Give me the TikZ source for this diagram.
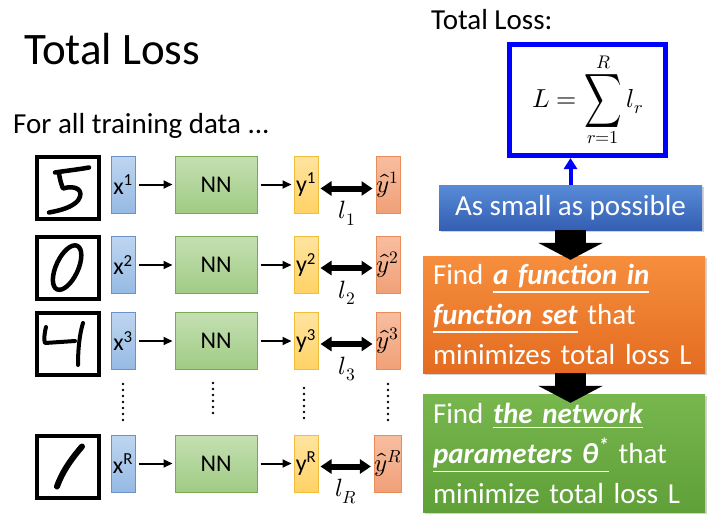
\documentclass[tikz,border=0pt]{standalone}
\usepackage{amsmath}
\usepackage{graphicx}
\usepackage{fontspec}
\usepackage{unicode-math}
\setmainfont{Carlito}
\setmathfont{Latin Modern Math}
\usetikzlibrary{arrows.meta,positioning,shadows}

\definecolor{xline}{RGB}{109,145,196}
\definecolor{xtop}{RGB}{190,213,240}
\definecolor{xbot}{RGB}{150,186,228}
\definecolor{nnline}{RGB}{120,170,85}
\definecolor{nntop}{RGB}{196,224,178}
\definecolor{nnbot}{RGB}{160,203,132}
\definecolor{yline}{RGB}{240,190,60}
\definecolor{ytop}{RGB}{255,228,160}
\definecolor{ybot}{RGB}{255,210,100}
\definecolor{yhline}{RGB}{232,140,90}
\definecolor{yhtop}{RGB}{248,190,160}
\definecolor{yhbot}{RGB}{240,160,120}
\definecolor{smalltop}{RGB}{88,140,215}
\definecolor{smallbot}{RGB}{52,94,178}
\definecolor{findtop}{RGB}{246,142,62}
\definecolor{findbot}{RGB}{228,108,32}
\definecolor{nettop}{RGB}{120,182,78}
\definecolor{netbot}{RGB}{96,160,56}

\tikzset{
  cell/.style={draw, line width=1pt, minimum width=24pt, minimum height=57pt, inner sep=0pt, font=\fontsize{24}{24}\selectfont},
  xcell/.style={cell, draw=xline, top color=xtop, bottom color=xbot},
  nncell/.style={cell, minimum width=82pt, draw=nnline, top color=nntop, bottom color=nnbot},
  ycell/.style={cell, draw=yline, top color=ytop, bottom color=ybot},
  yhcell/.style={cell, draw=yhline, top color=yhtop, bottom color=yhbot, font=\fontsize{25}{25}\selectfont},
  digit/.style={draw, line width=4pt, minimum size=62pt, inner sep=0pt},
  pen/.style={line width=4.5pt, line cap=round, line join=round},
  feed/.style={-{Triangle[length=9pt,width=8pt]}, line width=2pt, shorten <=3pt, shorten >=2pt},
  loss/.style={{Triangle[length=11pt,width=14pt]}-{Triangle[length=11pt,width=14pt]}, line width=6pt, shorten <=2pt, shorten >=3pt},
  lname/.style={below=9pt, inner sep=1pt, font=\fontsize{25}{25}\selectfont},
  vdots/.style={line width=2.6pt, line cap=round, dash pattern=on 0pt off 6pt},
  goal/.style={inner sep=0pt, text=white, font=\fontsize{29}{40}\selectfont, drop shadow={opacity=0.35, shadow xshift=1.5pt, shadow yshift=-1.5pt}},
  block/.style={-{Triangle[length=17pt,width=64pt]}, line width=31pt},
  label/.style={anchor=base west, inner sep=0pt}
}

\begin{document}
\begin{tikzpicture}[x=1pt,y=-1pt,on grid]
  \path[use as bounding box, fill=white] (0,0) rectangle (713,523);

  % left half: one network per training example
  \node[label, font=\fontsize{45}{45}\selectfont] (title) at (24,64) {Total Loss};
  \node[label, font=\fontsize{29}{29}\selectfont] (all) at (13,133) {For all training data ...};

  \node[xcell] (x_1) at (123,184.5) {x\textsuperscript{1}};
  \node[xcell] (x_2) [below=80.5pt of x_1] {x\textsuperscript{2}};
  \node[xcell] (x_3) [below=76pt of x_2] {x\textsuperscript{3}};
  \node[xcell] (x_R) [below=122.5pt of x_3] {x\textsuperscript{R}};

  \node[digit] (d_1) [left=55pt of x_1, yshift=-3pt] {};
  \node[digit] (d_2) [left=55pt of x_2, yshift=-3pt] {};
  \node[digit] (d_3) [left=55pt of x_3, yshift=-3pt] {};
  \node[digit] (d_R) [left=55pt of x_R, yshift=-3pt] {};

  \node[nncell] (nn_1) [right=93pt of x_1] {NN};
  \node[nncell] (nn_2) [right=93pt of x_2] {NN};
  \node[nncell] (nn_3) [right=93pt of x_3] {NN};
  \node[nncell] (nn_R) [right=93pt of x_R] {NN};

  \node[ycell] (y_1) [right=90pt of nn_1] {y\textsuperscript{1}};
  \node[ycell] (y_2) [right=90pt of nn_2] {y\textsuperscript{2}};
  \node[ycell] (y_3) [right=90pt of nn_3] {y\textsuperscript{3}};
  \node[ycell] (y_R) [right=90pt of nn_R] {y\textsuperscript{R}};

  \node[yhcell] (yh_1) [right=82pt of y_1] {$\hat{y}^{1}$};
  \node[yhcell] (yh_2) [right=82pt of y_2] {$\hat{y}^{2}$};
  \node[yhcell] (yh_3) [right=82pt of y_3] {$\hat{y}^{3}$};
  \node[yhcell] (yh_R) [right=82pt of y_R] {$\hat{y}^{R}$};

  \path[feed]
  (x_1) edge (nn_1) (nn_1) edge (y_1)
  (x_2) edge (nn_2) (nn_2) edge (y_2)
  (x_3) edge (nn_3) (nn_3) edge (y_3)
  (x_R) edge (nn_R) (nn_R) edge (y_R);

  \draw[loss] ([yshift=-4pt]y_1.east) -- ([yshift=-4pt]yh_1.west) node[midway, lname] {$l_1$};
  \draw[loss] ([yshift=-3pt]y_2.east) -- ([yshift=-3pt]yh_2.west) node[midway, lname] {$l_2$};
  \draw[loss] ([yshift=-3pt]y_3.east) -- ([yshift=-3pt]yh_3.west) node[midway, lname] {$l_3$};
  \draw[loss] ([yshift=-3pt]y_R.east) -- ([yshift=-3pt]yh_R.west) node[midway, lname] {$l_R$};

  \draw[vdots] ([yshift=-14pt]x_3.south) -- ([yshift=14pt]x_R.north);
  \draw[vdots] ([xshift=-3pt,yshift=-13pt]nn_3.south) -- ([xshift=-3pt,yshift=17pt]nn_R.north);
  \draw[vdots] ([xshift=-2pt,yshift=-18pt]y_3.south) -- ([xshift=-2pt,yshift=13pt]y_R.north);
  \draw[vdots] ([yshift=-14pt]yh_3.south) -- ([yshift=14pt]yh_R.north);

  % handwritten digits
  \begin{scope}[shift={(d_1.center)}]
    \draw[pen] (-13,-15) .. controls (0,-17) and (10,-18) .. (21,-20);
    \draw[pen] (-9,-14) .. controls (-8,-8) and (-7,-4) .. (-5,1) .. controls (8,-3) and (17,3) .. (10,13) .. controls (4,20) and (-8,23) .. (-19,25);
  \end{scope}
  \begin{scope}[shift={(d_2.center)}]
    \draw[pen, rotate=-25] (-1,0) ellipse (11 and 24);
  \end{scope}
  \begin{scope}[shift={(d_3.center)}]
    \draw[pen, line width=4pt] (-22,-17) .. controls (-24,-9) and (-24,-4) .. (-23,-1) -- (7,-3);
    \draw[pen, line width=4pt] (15,-21) .. controls (11,-8) and (10,8) .. (10,21);
  \end{scope}
  \begin{scope}[shift={(d_R.center)}]
    \draw[pen, line width=6pt] (14,-20) .. controls (2,-6) and (-6,6) .. (-11,20);
  \end{scope}

  % right half: what training means
  \node[label, font=\fontsize{29}{29}\selectfont] (tl) at (431,29) {Total Loss:};
  \node[draw=blue, line width=5pt, minimum width=156pt, minimum height=111pt, inner sep=0pt,
        font=\fontsize{26}{26}\selectfont] (L) at (587.5,100)
        {$\displaystyle L=\mathop{\vcenter{\hbox{\scalebox{1.0}[1.45]{$\displaystyle\sum$}}}}\limits_{r=1}^{R} l_r$};

  \node[goal, top color=smalltop, bottom color=smallbot, minimum width=263pt, minimum height=45pt] (small) at (570.5,207.5) {As small as possible};
  \node[goal, top color=findtop, bottom color=findbot, text width=262pt, inner xsep=10pt, minimum height=117pt, align=left] (find) at (564,314.5)
        {Find \underline{\textbf{\textit{a function in}}}\\\underline{\textbf{\textit{function set}}} that\\minimizes total loss L};
  \node[goal, top color=nettop, bottom color=netbot, text width=262pt, inner xsep=10pt, minimum height=118pt, align=left] (net) at (564,453)
        {Find \underline{\textbf{\textit{the network}}}\\\underline{\textbf{\textit{parameters θ\textsuperscript{*}}}} that\\minimize total loss L};

  \draw[-{Triangle[length=11pt,width=13pt]}, line width=4pt, blue] (small.north) -- (small.north |- L.south);
  \draw[block] (small.south) -- ([yshift=-4pt]small.south |- find.north);
  \draw[block] (small.south |- find.south) -- ([yshift=-9pt]small.south |- net.north);
\end{tikzpicture}
\end{document}
